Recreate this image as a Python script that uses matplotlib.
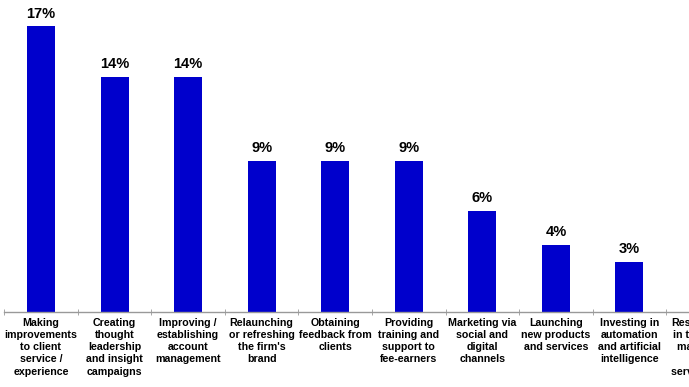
import matplotlib
matplotlib.use("Agg")
import matplotlib.pyplot as plt
import numpy as np

categories = [
    "Making\nimprovements\nto client\nservice /\nexperience",
    "Creating\nthought\nleadership\nand insight\ncampaigns",
    "Improving /\nestablishing\naccount\nmanagement",
    "Relaunching\nor refreshing\nthe firm's\nbrand",
    "Obtaining\nfeedback from\nclients",
    "Providing\ntraining and\nsupport to\nfee-earners",
    "Marketing via\nsocial and\ndigital\nchannels",
    "Launching\nnew products\nand services",
    "Investing in\nautomation\nand artificial\nintelligence",
    "Researching\nin the client\nmarket for\nnew\nservice lines",
]
values = [17, 14, 14, 9, 9, 9, 6, 4, 3, 2]
value_labels = ["17%", "14%", "14%", "9%", "9%", "9%", "6%", "4%", "3%", "2%"]

plt.rcParams['font.family'] = ['Liberation Sans', 'DejaVu Sans']

W, H = 689, 387
fig = plt.figure(figsize=(W / 100, H / 100), dpi=100)
left_px, base_px = 4.2, 312
step = 73.56
n = len(categories)
unit = 16.8
ytop = 18.5
ax = fig.add_axes([left_px / W, (H - base_px) / H, n * step / W, ytop * unit / H])

x = np.arange(n)
ax.bar(x, values, width=0.38, color="#0000CC", zorder=2)
for xi, v, lab in zip(x, values, value_labels):
    ax.text(xi, v + 0.35, lab, ha="center", va="bottom", fontsize=10.5,
            fontweight="bold", color="black")

ax.set_xlim(-0.5, n - 0.5)
ax.set_ylim(0, ytop)
for s in ["top", "right", "left"]:
    ax.spines[s].set_visible(False)
ax.spines["bottom"].set_color("#999999")
ax.spines["bottom"].set_linewidth(1.0)
ax.set_yticks([])

ax.set_xticks(x)
ax.set_xticklabels(categories, fontsize=7.7, fontweight="bold", linespacing=1.28,
                   multialignment="center")
ax.tick_params(axis="x", which="major", length=0, pad=4)
ax.set_xticks(np.arange(n + 1) - 0.5, minor=True)
ax.tick_params(axis="x", which="minor", length=4, direction="inout", color="#999999")

fig.savefig("out.png", dpi=100)
